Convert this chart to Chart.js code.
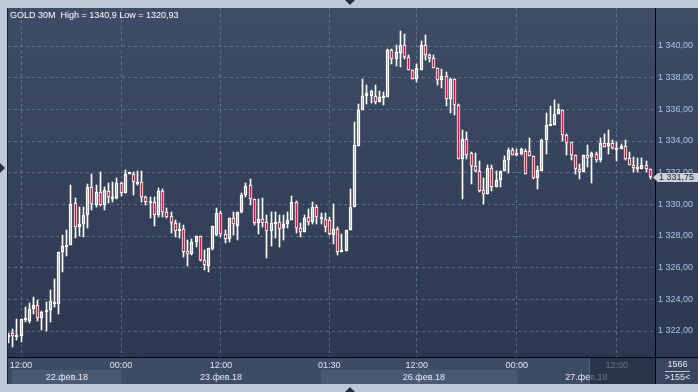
<!DOCTYPE html>
<html>
<head>
<meta charset="utf-8">
<title>GOLD 30M</title>
<script src="https://cdn.jsdelivr.net/npm/chart.js@4.4.1/dist/chart.umd.min.js"></script>
<style>
  html, body { margin: 0; padding: 0; }
  body { width: 698px; height: 392px; background: #bdc8d6; position: relative; overflow: hidden; }
  #wrap { position: absolute; left: 8px; top: 8px; width: 690px; height: 376px; }
  #edge { position: absolute; left: 7px; top: 8px; width: 1px; height: 376px; background: #1b222e; }
  .tri { position: absolute; width: 0; height: 0; }
  #triTop { left: 345px; top: 0; border-left: 5px solid transparent; border-right: 5px solid transparent; border-top: 5px solid #27313f; }
  #triBottom { left: 345px; top: 387px; border-left: 5px solid transparent; border-right: 5px solid transparent; border-bottom: 5px solid #27313f; }
  #triLeft { left: 0; top: 163px; border-top: 5px solid transparent; border-bottom: 5px solid transparent; border-left: 5px solid #27313f; }
</style>
</head>
<body>
<div id="edge"></div>
<div id="wrap"><canvas id="chart" width="690" height="376"></canvas></div>
<div class="tri" id="triTop"></div>
<div class="tri" id="triBottom"></div>
<div class="tri" id="triLeft"></div>
<script>
    // GOLD, 30 minute candles, 155 bars on screen
    const opens = [
        1321.70, 1321.85, 1321.70, 1321.71, 1322.70, 1322.65, 1323.37, 1323.62, 1322.80, 1323.18,
        1323.30, 1323.83, 1323.68, 1326.97, 1327.37, 1327.43, 1330.06, 1328.59, 1328.74, 1329.31,
        1331.07, 1329.96, 1330.80, 1329.96, 1330.86, 1330.36, 1330.38, 1331.33, 1330.74, 1331.94,
        1331.90, 1331.39, 1331.39, 1330.48, 1330.21, 1330.13, 1329.31, 1330.84, 1329.54, 1329.26,
        1328.84, 1328.44, 1328.42, 1327.07, 1326.86, 1327.60, 1328.00, 1326.48, 1326.10, 1327.16,
        1328.06, 1329.47, 1328.13, 1327.83, 1329.12, 1328.65, 1329.54, 1330.59, 1331.22, 1330.32,
        1328.80, 1329.05, 1328.90, 1328.34, 1328.80, 1328.88, 1328.48, 1328.76, 1329.00, 1330.13,
        1328.48, 1328.27, 1329.18, 1328.90, 1329.81, 1329.22, 1329.05, 1329.00, 1328.04, 1328.46,
        1327.01, 1327.07, 1328.38, 1329.83, 1333.68, 1335.98, 1336.82, 1336.82, 1336.82, 1336.46,
        1336.72, 1336.78, 1339.73, 1339.20, 1339.58, 1340.08, 1339.31, 1338.51, 1337.94, 1338.51,
        1340.08, 1339.45, 1339.26, 1338.63, 1337.87, 1338.08, 1336.67, 1337.94, 1336.29, 1332.88,
        1334.15, 1333.24, 1332.40, 1332.11, 1330.88, 1330.67, 1332.29, 1331.09, 1331.52, 1332.08,
        1332.78, 1333.41, 1333.24, 1333.20, 1333.35, 1333.35, 1333.03, 1331.66, 1332.11, 1334.04,
        1334.99, 1334.99, 1335.73, 1335.98, 1334.36, 1333.94, 1333.14, 1332.25, 1332.04, 1333.09,
        1332.99, 1333.20, 1332.78, 1333.89, 1333.68, 1333.89, 1333.56, 1333.47, 1333.68, 1332.95,
        1332.51, 1332.34, 1332.25, 1332.51, 1332.25
    ];
    const highs = [
        1321.85, 1322.10, 1322.76, 1322.74, 1323.50, 1323.75, 1324.13, 1323.96, 1323.26, 1323.85,
        1324.60, 1325.28, 1326.97, 1328.06, 1328.38, 1331.22, 1330.38, 1329.85, 1329.85, 1331.28,
        1331.92, 1331.22, 1332.02, 1331.12, 1331.37, 1331.39, 1331.64, 1331.43, 1332.17, 1332.02,
        1332.06, 1332.10, 1332.10, 1330.53, 1330.48, 1330.48, 1331.05, 1330.95, 1329.75, 1329.54,
        1329.01, 1328.80, 1328.69, 1327.75, 1327.81, 1328.00, 1328.00, 1327.12, 1327.22, 1328.63,
        1329.75, 1329.60, 1328.38, 1329.12, 1329.54, 1329.54, 1330.70, 1331.33, 1331.58, 1330.32,
        1330.32, 1330.38, 1329.33, 1329.54, 1329.54, 1329.33, 1329.33, 1329.54, 1330.53, 1330.21,
        1328.80, 1329.33, 1329.68, 1330.17, 1329.96, 1329.43, 1329.43, 1329.20, 1330.00, 1328.57,
        1328.10, 1328.40, 1331.00, 1335.20, 1336.36, 1337.94, 1337.52, 1337.20, 1337.52, 1337.14,
        1337.09, 1339.79, 1339.79, 1340.04, 1340.93, 1340.78, 1339.41, 1338.51, 1338.88, 1340.32,
        1340.67, 1339.52, 1339.45, 1338.63, 1338.57, 1338.36, 1337.98, 1337.94, 1336.36, 1334.72,
        1334.57, 1333.31, 1333.26, 1332.72, 1331.68, 1332.46, 1332.51, 1332.11, 1332.11, 1333.03,
        1333.58, 1333.58, 1333.52, 1333.56, 1333.47, 1334.21, 1333.03, 1332.42, 1334.15, 1335.77,
        1336.19, 1336.61, 1336.32, 1335.98, 1334.46, 1333.94, 1333.14, 1332.57, 1333.14, 1333.73,
        1333.31, 1333.31, 1334.21, 1334.46, 1334.67, 1334.08, 1333.94, 1333.83, 1334.04, 1333.31,
        1332.99, 1332.95, 1332.95, 1332.72, 1332.25
    ];
    const lows = [
        1321.22, 1321.01, 1321.43, 1321.33, 1322.60, 1322.48, 1323.07, 1322.65, 1322.06, 1322.02,
        1322.60, 1323.53, 1323.07, 1325.70, 1326.76, 1327.43, 1327.85, 1328.00, 1327.96, 1328.48,
        1329.64, 1329.85, 1329.90, 1329.64, 1330.06, 1330.17, 1330.32, 1330.55, 1330.70, 1331.94,
        1330.59, 1331.22, 1330.17, 1329.96, 1329.12, 1328.63, 1329.22, 1329.22, 1329.12, 1328.17,
        1327.96, 1327.90, 1326.65, 1326.13, 1326.80, 1327.33, 1326.40, 1325.85, 1325.75, 1327.12,
        1328.00, 1327.96, 1327.54, 1327.64, 1328.06, 1327.75, 1329.43, 1330.48, 1329.96, 1328.70,
        1328.13, 1328.60, 1326.63, 1327.37, 1327.85, 1327.28, 1327.75, 1328.48, 1329.00, 1328.20,
        1327.96, 1328.27, 1328.70, 1328.76, 1328.76, 1328.76, 1328.27, 1328.06, 1327.52, 1326.80,
        1326.97, 1327.05, 1328.36, 1329.83, 1333.68, 1335.98, 1336.36, 1336.42, 1336.36, 1336.46,
        1336.25, 1336.78, 1338.88, 1338.72, 1338.67, 1339.20, 1338.51, 1337.89, 1337.73, 1338.51,
        1339.14, 1338.99, 1338.61, 1337.52, 1337.37, 1336.19, 1335.77, 1335.62, 1332.88, 1330.36,
        1332.88, 1331.31, 1332.04, 1330.78, 1330.04, 1330.67, 1330.84, 1331.09, 1331.09, 1332.08,
        1331.98, 1333.14, 1333.03, 1333.09, 1331.94, 1333.03, 1331.62, 1330.99, 1332.11, 1333.20,
        1334.99, 1334.99, 1335.73, 1334.00, 1333.14, 1332.78, 1331.89, 1331.62, 1332.04, 1332.36,
        1331.37, 1332.67, 1332.67, 1333.62, 1333.20, 1333.52, 1332.72, 1333.47, 1332.78, 1332.51,
        1332.04, 1332.04, 1332.21, 1332.04, 1331.58
    ];
    const closes = [
        1321.75, 1321.70, 1321.75, 1322.74, 1322.80, 1323.37, 1323.62, 1322.80, 1323.18, 1323.33,
        1323.87, 1323.68, 1326.97, 1327.37, 1327.43, 1330.00, 1328.55, 1328.74, 1329.31, 1331.07,
        1330.00, 1330.76, 1329.96, 1330.90, 1330.44, 1330.44, 1331.33, 1330.74, 1331.90, 1332.02,
        1331.39, 1331.33, 1330.48, 1330.17, 1330.13, 1329.31, 1330.84, 1329.54, 1329.22, 1328.84,
        1328.34, 1328.36, 1327.01, 1326.84, 1327.60, 1328.00, 1326.48, 1326.15, 1327.22, 1328.63,
        1329.43, 1328.13, 1327.83, 1329.12, 1328.74, 1329.54, 1330.59, 1331.16, 1330.32, 1328.80,
        1329.05, 1328.84, 1328.34, 1328.84, 1328.88, 1328.44, 1328.76, 1329.00, 1330.13, 1328.48,
        1328.27, 1329.12, 1328.90, 1329.81, 1329.22, 1329.05, 1328.59, 1328.13, 1328.46, 1326.99,
        1327.12, 1328.38, 1329.85, 1333.73, 1335.98, 1336.82, 1337.03, 1337.14, 1336.46, 1336.76,
        1336.82, 1339.73, 1339.20, 1339.62, 1340.08, 1339.31, 1338.51, 1337.94, 1338.61, 1340.08,
        1339.45, 1339.26, 1338.63, 1337.87, 1338.08, 1336.67, 1337.94, 1336.29, 1332.88, 1334.15,
        1333.14, 1332.40, 1332.11, 1330.82, 1330.67, 1332.29, 1331.09, 1331.52, 1332.08, 1332.82,
        1333.41, 1333.14, 1333.09, 1333.47, 1331.94, 1333.03, 1331.66, 1332.15, 1334.04, 1335.03,
        1335.05, 1335.73, 1336.00, 1334.36, 1333.89, 1333.14, 1332.25, 1332.04, 1333.09, 1332.95,
        1333.24, 1332.78, 1333.87, 1333.62, 1333.89, 1333.56, 1333.52, 1333.68, 1332.88, 1332.51,
        1332.29, 1332.25, 1332.51, 1332.25, 1331.75
    ];

    // time axis: bar index -> label
    const timeIdx = [3, 27, 51, 77, 98, 122, 146];
    const timeText = ['12:00', '00:00', '12:00', '01:30', '12:00', '00:00', '12:00'];
    // date row: label position and the bar index where each day band starts
    const dayIdx = [14, 51, 99.7, 138.7];
    const dayText = ['22.фев.18', '23.фев.18', '26.фев.18', '27.фев.18'];
    const dayStart = [0.8, 27, 75, 122];
    // price axis
    const priceTicks = [1322, 1324, 1326, 1328, 1330, 1332, 1334, 1336, 1338, 1340];
    const lastPrice = 1331.75;
    const titleText = 'GOLD 30M  High = 1340,9 Low = 1320,93';
    const barsTotal = '1566';
    const barsShown = '>155<';

    const FONT = '"Liberation Sans", Arial, sans-serif';
    const RED = '#e2103c';
    const GRID = 'rgba(130,146,172,0.55)';

    function fmtPrice(v) {
        const s = Number(v).toFixed(2).replace('.', ',');
        return s.replace(/^(\d)(\d{3})/, '$1 $2');
    }

    const idx = opens.map((o, i) => i);
    const upperWicks = idx.map(i => ({ x: i, y: [Math.max(opens[i], closes[i]), highs[i]] }));
    const lowerWicks = idx.map(i => ({ x: i, y: [lows[i], Math.min(opens[i], closes[i])] }));
    const bodies = idx.map(i => ({ x: i, y: [opens[i], closes[i]] }));
    const bodyFill = idx.map(i => closes[i] < opens[i] ? RED : 'rgba(0,0,0,0)');

    // snap bars to whole pixels like the terminal does
    const snapBars = {
        id: 'snapBars',
        beforeDatasetsDraw(chart) {
            chart.data.datasets.forEach((ds, d) => {
                chart.getDatasetMeta(d).data.forEach(el => {
                    el.x = Math.floor(el.x) + 0.5;
                    const top = Math.round(Math.min(el.y, el.base));
                    let bot = Math.round(Math.max(el.y, el.base));
                    if (ds.minPx && bot - top < ds.minPx) bot = top + ds.minPx;
                    el.y = top;
                    el.base = bot;
                });
            });
        }
    };

    const frame = {
        id: 'frame',
        beforeDraw(chart) {
            const { ctx, chartArea: a, width, height } = chart;
            const xs = chart.scales.x, x2 = chart.scales.x2;
            ctx.save();
            const g = ctx.createLinearGradient(0, 0, 0, a.bottom);
            g.addColorStop(0, '#3f4c66');
            g.addColorStop(1, '#2c3850');
            ctx.fillStyle = g;
            ctx.fillRect(0, 0, width, a.bottom);
            ctx.fillStyle = '#3e4b64';
            ctx.fillRect(0, a.bottom, width, height - a.bottom);
            dayStart.forEach((s, k) => {
                const e = k + 1 < dayStart.length ? dayStart[k + 1] : xs.max;
                const l = Math.round(xs.getPixelForValue(s));
                const r = Math.min(Math.round(xs.getPixelForValue(e)), a.right);
                ctx.fillStyle = k % 2 ? '#3e4b64' : '#4b5872';
                ctx.fillRect(l, x2.top, r - l, x2.bottom - x2.top);
            });
            ctx.fillStyle = '#38455d';
            ctx.fillRect(a.right, a.bottom, width - a.right, height - a.bottom);
            ctx.restore();
        },
        afterDraw(chart) {
            const { ctx, chartArea: a, width, height } = chart;
            const ys = chart.scales.y;
            ctx.save();
            // dimmed box over the right end of the time axis
            ctx.fillStyle = 'rgba(28,38,58,0.62)';
            ctx.fillRect(582, a.bottom + 1, a.right - 582, height - a.bottom - 1);
            ctx.fillStyle = 'rgba(255,255,255,0.12)';
            ctx.fillRect(581, a.bottom + 1, 1, height - a.bottom - 1);

            // separators
            ctx.fillStyle = '#000';
            ctx.fillRect(a.right, 0, 1, height);
            ctx.fillRect(0, a.bottom, width, 1);

            // title
            ctx.font = '9px ' + FONT;
            ctx.fillStyle = '#ffffff';
            ctx.textAlign = 'left';
            ctx.textBaseline = 'alphabetic';
            ctx.fillText(titleText, 2, 10);

            // last price tag
            const y = Math.round(ys.getPixelForValue(lastPrice)) + 0.5;
            const x0 = a.right;
            ctx.beginPath();
            ctx.moveTo(x0 - 2, y);
            ctx.lineTo(x0 + 3, y - 4.5);
            ctx.lineTo(width, y - 4.5);
            ctx.lineTo(width, y + 4.5);
            ctx.lineTo(x0 + 3, y + 4.5);
            ctx.closePath();
            ctx.fillStyle = '#cdd2d9';
            ctx.fill();
            ctx.fillStyle = '#1c1f24';
            ctx.textBaseline = 'middle';
            ctx.fillText(fmtPrice(lastPrice), x0 + 4, y + 0.5);

            // bar counter box
            const cx = (a.right + width) / 2 + 1;
            ctx.textAlign = 'center';
            ctx.fillStyle = '#e6ebf2';
            ctx.fillText(barsTotal, cx, a.bottom + 8);
            ctx.fillText(barsShown, cx, a.bottom + 21);
            ctx.fillStyle = '#b9c3d1';
            ctx.fillRect(a.right + 10, a.bottom + 14, width - a.right - 18, 1);
            ctx.restore();
        }
    };

    const xMin = -0.12, xMax = 155.16;
    const noSidePad = s => { s.paddingLeft = 0; s.paddingRight = 0; };

    new Chart(document.getElementById('chart'), {
        type: 'bar',
        data: {
            datasets: [
                { data: upperWicks, backgroundColor: '#ffffff', barThickness: 1, grouped: false, borderWidth: 0 },
                { data: lowerWicks, backgroundColor: '#ffffff', barThickness: 1, grouped: false, borderWidth: 0 },
                {
                    data: bodies, backgroundColor: bodyFill, borderColor: '#ffffff', borderWidth: 1,
                    borderSkipped: false, barThickness: 3, grouped: false, minPx: 2
                }
            ]
        },
        options: {
            responsive: false,
            animation: false,
            devicePixelRatio: 1,
            layout: { padding: 0 },
            plugins: { legend: { display: false }, tooltip: { enabled: false } },
            scales: {
                x: {
                    type: 'linear', position: 'bottom', min: xMin, max: xMax, offset: false, weight: 0,
                    afterBuildTicks: s => { s.ticks = timeIdx.map(v => ({ value: v })); },
                    afterFit: s => { s.height = 13; noSidePad(s); },
                    grid: { color: GRID, drawTicks: false, offset: false },
                    border: { display: false, dash: [3, 3] },
                    ticks: {
                        autoSkip: false, maxRotation: 0, padding: 3,
                        color: '#dfe6ef', font: { family: FONT, size: 9 },
                        callback: (v, i) => timeText[i]
                    }
                },
                x2: {
                    type: 'linear', position: 'bottom', min: xMin, max: xMax, offset: false, weight: 1,
                    afterBuildTicks: s => { s.ticks = dayIdx.map(v => ({ value: v })); },
                    afterFit: s => { s.height = 14; noSidePad(s); },
                    grid: { display: false, drawTicks: false, offset: false },
                    border: { display: false },
                    ticks: {
                        autoSkip: false, maxRotation: 0, padding: 2,
                        color: '#e6ebf2', font: { family: FONT, size: 9 },
                        callback: (v, i) => dayText[i]
                    }
                },
                y: {
                    position: 'right', min: 1320.358, max: 1342.4,
                    afterBuildTicks: s => { s.ticks = priceTicks.map(v => ({ value: v })); },
                    afterFit: s => { s.width = 43; s.paddingTop = 0; s.paddingBottom = 0; },
                    grid: { color: GRID, drawTicks: false },
                    border: { display: false, dash: [3, 3] },
                    ticks: {
                        padding: 3, color: '#a9c6ec', font: { family: FONT, size: 9 },
                        callback: v => fmtPrice(v)
                    }
                }
            }
        },
        plugins: [frame, snapBars]
    });
</script>
</body>
</html>
